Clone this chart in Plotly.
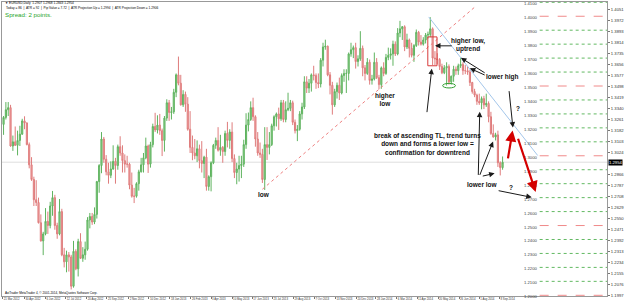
import numpy as np
import plotly.graph_objects as go

# ---------------- data ----------------
start_date = "2012-03-21"
holidays = ["2012-12-25", "2013-01-01", "2013-12-25", "2014-01-01"]
days_per_bar = 3
first_open = 1.3225

closes = [1.3275,1.3330,1.3345,1.3070,1.3100,1.3075,1.3110,1.3155,1.3250,1.3235,
          1.3080,1.2935,1.2830,1.2685,1.2665,1.2520,1.2390,1.2440,1.2530,1.2500,
          1.2640,1.2700,1.2500,1.2440,1.2600,1.2290,1.2240,1.2290,1.2275,1.2065,
          1.2315,1.2190,1.2385,1.2265,1.2290,1.2330,1.2540,1.2565,1.2525,1.2580,
          1.2815,1.2930,1.3120,1.2975,1.2885,1.2860,1.2905,1.2960,1.2930,1.3065,
          1.3020,1.2965,1.2940,1.2940,1.2790,1.2710,1.2710,1.2800,1.2885,1.2935,
          1.2985,1.3070,1.2940,1.3080,1.3210,1.3185,1.3220,1.3180,1.3110,1.3270,
          1.3380,1.3310,1.3315,1.3455,1.3580,1.3520,1.3365,1.3440,1.3370,1.3190,
          1.3060,1.3020,1.3000,1.3050,1.2965,1.2945,1.2990,1.2780,1.2850,1.2950,
          1.3075,1.3110,1.3040,1.3060,1.3030,1.3160,1.3110,1.3170,1.2980,1.2880,
          1.2905,1.2930,1.2940,1.3080,1.3220,1.3260,1.3345,1.3280,1.3120,1.3020,
          1.3010,1.2830,1.3080,1.3060,1.3080,1.3215,1.3280,1.3300,1.3265,1.3380,
          1.3260,1.3330,1.3340,1.3380,1.3240,1.3180,1.3190,1.3300,1.3350,1.3530,
          1.3485,1.3520,1.3580,1.3575,1.3525,1.3515,1.3685,1.3780,1.3785,1.3580,
          1.3505,1.3365,1.3460,1.3505,1.3450,1.3575,1.3590,1.3590,1.3730,1.3760,
          1.3775,1.3675,1.3695,1.3770,1.3630,1.3590,1.3670,1.3540,1.3550,1.3670,
          1.3560,1.3510,1.3630,1.3590,1.3705,1.3720,1.3730,1.3800,1.3730,1.3880,
          1.3910,1.3925,1.3780,1.3830,1.3770,1.3720,1.3790,1.3885,1.3815,1.3800,
          1.3830,1.3865,1.3870,1.3910,1.3700,1.3695,1.3690,1.3640,1.3595,1.3630,
          1.3640,1.3530,1.3570,1.3620,1.3610,1.3645,1.3655,1.3610,1.3610,1.3600,
          1.3525,1.3460,1.3435,1.3390,1.3380,1.3410,1.3365,1.3375,1.3280,1.3160,
          1.3135,1.3150,1.2950,1.2915,1.2954]
highs = [1.3285,1.3385,1.3385,1.3365,1.3145,1.3210,1.3180,1.3215,1.3265,1.3283,
         1.3240,1.3095,1.2990,1.2850,1.2825,1.2700,1.2580,1.2455,1.2625,1.2600,
         1.2670,1.2748,1.2720,1.2520,1.2690,1.2620,1.2340,1.2320,1.2310,1.2290,
         1.2390,1.2330,1.2405,1.2445,1.2345,1.2385,1.2560,1.2590,1.2590,1.2630,
         1.2820,1.2940,1.3170,1.3135,1.3005,1.2950,1.2960,1.3075,1.2985,1.3080,
         1.3140,1.3075,1.3010,1.3000,1.2950,1.2880,1.2770,1.2810,1.2900,1.2985,
         1.3020,1.3130,1.3080,1.3100,1.3230,1.3308,1.3290,1.3300,1.3195,1.3285,
         1.3405,1.3400,1.3350,1.3480,1.3590,1.3711,1.3580,1.3470,1.3460,1.3420,
         1.3320,1.3145,1.3120,1.3110,1.3080,1.3105,1.3000,1.3050,1.2860,1.2960,
         1.3085,1.3130,1.3205,1.3150,1.3070,1.3180,1.3243,1.3190,1.3240,1.3010,
         1.2950,1.3000,1.3000,1.3115,1.3305,1.3310,1.3390,1.3416,1.3290,1.3170,
         1.3095,1.3050,1.3205,1.3205,1.3170,1.3230,1.3290,1.3310,1.3345,1.3400,
         1.3400,1.3390,1.3452,1.3400,1.3395,1.3260,1.3220,1.3320,1.3380,1.3570,
         1.3570,1.3550,1.3590,1.3645,1.3590,1.3590,1.3700,1.3810,1.3832,1.3790,
         1.3600,1.3530,1.3480,1.3525,1.3560,1.3590,1.3620,1.3620,1.3740,1.3810,
         1.3790,1.3810,1.3720,1.3893,1.3790,1.3650,1.3700,1.3690,1.3580,1.3740,
         1.3700,1.3580,1.3640,1.3670,1.3730,1.3775,1.3770,1.3825,1.3820,1.3915,
         1.3967,1.3930,1.3935,1.3875,1.3840,1.3810,1.3800,1.3905,1.3895,1.3865,
         1.3850,1.3880,1.3890,1.3993,1.3920,1.3750,1.3735,1.3700,1.3660,1.3650,
         1.3670,1.3655,1.3575,1.3645,1.3640,1.3660,1.3700,1.3670,1.3650,1.3640,
         1.3615,1.3530,1.3480,1.3445,1.3445,1.3425,1.3430,1.3445,1.3390,1.3315,
         1.3225,1.3165,1.3180,1.2960,1.2995]
lows = [1.3150,1.3260,1.3285,1.3065,1.3035,1.3070,1.3003,1.3070,1.3150,1.3190,
        1.3075,1.2910,1.2820,1.2640,1.2640,1.2515,1.2385,1.2288,1.2430,1.2440,
        1.2480,1.2570,1.2470,1.2405,1.2430,1.2280,1.2200,1.2165,1.2170,1.2042,
        1.2055,1.2180,1.2135,1.2260,1.2240,1.2255,1.2320,1.2480,1.2505,1.2510,
        1.2550,1.2735,1.2875,1.2950,1.2860,1.2800,1.2840,1.2900,1.2800,1.2900,
        1.3000,1.2880,1.2880,1.2915,1.2760,1.2700,1.2661,1.2700,1.2750,1.2880,
        1.2880,1.2975,1.2877,1.2915,1.3060,1.3170,1.3160,1.3150,1.2998,1.3030,
        1.3250,1.3250,1.3260,1.3300,1.3420,1.3505,1.3360,1.3350,1.3315,1.3180,
        1.3020,1.2968,1.2975,1.2955,1.2910,1.2880,1.2840,1.2750,1.2750,1.2745,
        1.2940,1.3050,1.3030,1.3000,1.2950,1.3000,1.3060,1.3050,1.2955,1.2840,
        1.2796,1.2815,1.2840,1.2920,1.3050,1.3175,1.3250,1.3250,1.3065,1.3000,
        1.2985,1.2805,1.2755,1.2970,1.3010,1.3070,1.3180,1.3210,1.3185,1.3250,
        1.3240,1.3240,1.3320,1.3320,1.3220,1.3160,1.3105,1.3180,1.3260,1.3335,
        1.3450,1.3450,1.3460,1.3540,1.3480,1.3485,1.3490,1.3640,1.3760,1.3570,
        1.3440,1.3295,1.3350,1.3410,1.3400,1.3440,1.3530,1.3450,1.3540,1.3710,
        1.3700,1.3625,1.3640,1.3680,1.3570,1.3540,1.3580,1.3510,1.3510,1.3540,
        1.3550,1.3477,1.3480,1.3570,1.3580,1.3685,1.3690,1.3645,1.3715,1.3720,
        1.3850,1.3830,1.3750,1.3765,1.3705,1.3705,1.3673,1.3780,1.3790,1.3790,
        1.3790,1.3805,1.3840,1.3850,1.3650,1.3650,1.3655,1.3615,1.3585,1.3585,
        1.3503,1.3510,1.3510,1.3530,1.3580,1.3580,1.3630,1.3580,1.3585,1.3580,
        1.3500,1.3445,1.3420,1.3365,1.3365,1.3333,1.3335,1.3350,1.3240,1.3150,
        1.3130,1.3110,1.2920,1.2859,1.2900]

bid_price = 1.2954
level_prices = [1.41, 1.40, 1.39, 1.38, 1.37, 1.36, 1.35, 1.34, 1.33, 1.32, 1.31,
                1.30, 1.29, 1.28, 1.27, 1.26, 1.25, 1.24, 1.23, 1.22, 1.21, 1.20]

price_ticks = [1.1997, 1.2076, 1.2155, 1.2234, 1.2313, 1.2392, 1.2471, 1.2550, 1.2629,
               1.2708, 1.2787, 1.2866, 1.3024, 1.3103, 1.3182, 1.3261, 1.3340,
               1.3419, 1.3498, 1.3577, 1.3656, 1.3735, 1.3814, 1.3893, 1.3972, 1.4051]

tick_dates = ["2012-03-21", "2012-04-30", "2012-06-06", "2012-07-12", "2012-08-20",
              "2012-09-25", "2012-11-02", "2012-12-10", "2013-01-18", "2013-02-26",
              "2013-04-03", "2013-05-10", "2013-06-17", "2013-07-23", "2013-08-29",
              "2013-10-07", "2013-11-13", "2013-12-20", "2014-01-28", "2014-03-06",
              "2014-04-11", "2014-05-20", "2014-06-26", "2014-08-01", "2014-09-08"]
tick_labels = ["21 Mar 2012", "30 Apr 2012", "6 Jun 2012", "12 Jul 2012", "20 Aug 2012",
               "25 Sep 2012", "2 Nov 2012", "10 Dec 2012", "18 Jan 2013", "26 Feb 2013",
               "3 Apr 2013", "10 May 2013", "17 Jun 2013", "23 Jul 2013", "29 Aug 2013",
               "7 Oct 2013", "13 Nov 2013", "20 Dec 2013", "28 Jan 2014", "6 Mar 2014",
               "11 Apr 2014", "20 May 2014", "26 Jun 2014", "1 Aug 2014", "8 Sep 2014"]

# drawings (x in trading-day index, y in price)
up_tl_x = [334.0, 607.9]
up_tl_y = [1.2760, 1.4069]
down_tl_x = [548.0, 688.2]
down_tl_y = [1.3995, 1.3002]
box_x = [546.8, 558.6]
box_y = [1.3645, 1.3852]
ellipse_x = [565.9, 582.4]
ellipse_y = [1.3486, 1.3519]

# black arrows: tip x, tip y, tail x, tail y
black_arrows = [
    (556.1, 1.3788, 579.5, 1.3788),
    (551.9, 1.3624, 545.5, 1.3302),
    (589.4, 1.3702, 621.9, 1.3588),
    (600.9, 1.3627, 621.9, 1.3574),
    (656.3, 1.3202, 651.2, 1.3474),
    (613.6, 1.3316, 611.7, 1.2852),
    (630.8, 1.3102, 613.0, 1.2852),
    (632.8, 1.2874, 615.6, 1.2852),
    (680.5, 1.2702, 636.0, 1.2752),
]
red_arrows = [
    (655.9, 1.3181, 649.6, 1.2971),
    (685.6, 1.2740, 662.3, 1.3133),
]
notes = [
    ("higher low,<br>uptrend", 599.0, 1.3795),
    ("lower high", 643.0, 1.3563),
    ("higher<br>low", 491.4, 1.3406),
    ("low", 336.6, 1.2724),
    ("break of ascending TL, trend turns<br>down and forms a lower low =<br>confirmation for downtrend", 546.8, 1.3081),
    ("lower low", 616.8, 1.2791),
    ("?", 662.7, 1.3338),
    ("?", 653.8, 1.2774),
]

header1 = "▼ EURUSD,Daily  1.2907 1.2968 1.2843 1.2954"
header2 = ("Today = 86  |  ATR = 92  |  Pip Value = 7.72  |  ATR Projection Up = 1.2994  |  "
           "ATR Projection Down = 1.2906")
spread_text = "Spread: 2 points."
copyright_text = "AxiTrader MetaTrader 4, © 2001-2014, MetaQuotes Software Corp."

# ---------------- build ----------------
opens = [first_open] + closes[:-1]
o = np.array(opens); c = np.array(closes)
h = np.maximum(np.array(highs), np.maximum(o, c))
l = np.minimum(np.array(lows), np.minimum(o, c))
bar_x = [days_per_bar * i + 1 for i in range(len(closes))]
tick_vals = [int(np.busday_count(start_date, d, holidays=holidays)) for d in tick_dates]

FONT = "Liberation Sans, Arial, sans-serif"
fig = go.Figure()
fig.add_trace(go.Candlestick(
    x=bar_x, open=o, high=h, low=l, close=c,
    increasing=dict(line=dict(color="#5fb35f", width=1), fillcolor="#93d493"),
    decreasing=dict(line=dict(color="#df7c7c", width=1), fillcolor="#f3aaaa"),
    whiskerwidth=0, showlegend=False, hoverinfo="skip"))

shapes = []
annotations = []

# bid line
shapes.append(dict(type="line", xref="paper", yref="y", x0=0, x1=1, y0=bid_price, y1=bid_price,
                   line=dict(color="#dedede", width=1), layer="below"))

# level lines with labels
for lv in level_prices:
    major = abs(round(lv * 100) % 5) == 0
    shapes.append(dict(type="line", xref="paper", yref="y", x0=0.8887, x1=1, y0=lv, y1=lv,
                       line=dict(color="#f08a8a" if major else "#62b962", width=1,
                                 dash="dash" if major else "dot")))
    annotations.append(dict(xref="paper", yref="y", x=0.8871, y=lv, xanchor="right", yanchor="middle",
                            yshift=-1.5, text=f"{lv:.4f}", showarrow=False,
                            font=dict(family=FONT, size=4.2, color="#444")))

# trend lines, box, ellipse
shapes.append(dict(type="line", xref="x", yref="y", x0=up_tl_x[0], x1=up_tl_x[1],
                   y0=up_tl_y[0], y1=up_tl_y[1], line=dict(color="#ee8080", width=1, dash="dot")))
shapes.append(dict(type="line", xref="x", yref="y", x0=down_tl_x[0], x1=down_tl_x[1],
                   y0=down_tl_y[0], y1=down_tl_y[1], line=dict(color="#a3c6ea", width=1)))
shapes.append(dict(type="rect", xref="x", yref="y", x0=box_x[0], x1=box_x[1],
                   y0=box_y[0], y1=box_y[1], line=dict(color="#d83a3a", width=1)))
shapes.append(dict(type="circle", xref="x", yref="y", x0=ellipse_x[0], x1=ellipse_x[1],
                   y0=ellipse_y[0], y1=ellipse_y[1], line=dict(color="#2f9e2f", width=1)))

for tx, ty, sx, sy in black_arrows:
    annotations.append(dict(x=tx, y=ty, ax=sx, ay=sy, xref="x", yref="y", axref="x", ayref="y",
                            text="", showarrow=True, arrowhead=2, arrowsize=1.1, arrowwidth=1,
                            arrowcolor="#1a1a1a", standoff=0, startstandoff=0))
for tx, ty, sx, sy in red_arrows:
    annotations.append(dict(x=tx, y=ty, ax=sx, ay=sy, xref="x", yref="y", axref="x", ayref="y",
                            text="", showarrow=True, arrowhead=2, arrowsize=1, arrowwidth=2.2,
                            arrowcolor="#d40000", standoff=0, startstandoff=0))
for txt, nx, ny in notes:
    annotations.append(dict(x=nx, y=ny, xref="x", yref="y", text=f"<b>{txt}</b>", showarrow=False,
                            xanchor="center", yanchor="middle", align="center",
                            font=dict(family=FONT, size=6.5, color="#111")))

# current price box on axis
annotations.append(dict(xref="paper", yref="y", x=1.0, y=bid_price, xanchor="left", yanchor="middle",
                        xshift=1, text=f"{bid_price:.4f}", showarrow=False, bgcolor="#000",
                        font=dict(family=FONT, size=4.2, color="#fff"), borderpad=0))

# header texts
annotations.append(dict(xref="paper", yref="paper", x=0.0015, y=0.9955, xanchor="left", yanchor="middle",
                        text=header1, showarrow=False, font=dict(family=FONT, size=3.2, color="#000")))
annotations.append(dict(xref="paper", yref="paper", x=0.003, y=0.9797, xanchor="left", yanchor="middle",
                        text=header2, showarrow=False, font=dict(family=FONT, size=3.2, color="#000")))
annotations.append(dict(xref="paper", yref="paper", x=0.002, y=0.9576, xanchor="left", yanchor="middle",
                        text=spread_text, showarrow=False, font=dict(family=FONT, size=6.2, color="#2aa52a")))
annotations.append(dict(xref="paper", yref="paper", x=0.002, y=0.009, xanchor="left", yanchor="middle",
                        text=copyright_text, showarrow=False, font=dict(family=FONT, size=3.1, color="#000")))

x_lo = -1
x_hi = -1 + 611 / 0.785
fig.update_layout(
    width=625, height=302,
    margin=dict(l=1, r=13, t=1, b=6),
    paper_bgcolor="white", plot_bgcolor="white",
    shapes=shapes, annotations=annotations, showlegend=False,
    xaxis=dict(range=[x_lo, x_hi], rangeslider=dict(visible=False), showgrid=False, zeroline=False,
               tickmode="array", tickvals=tick_vals, ticktext=tick_labels, tickangle=0,
               ticks="outside", ticklen=2, tickcolor="#777", ticklabelposition="outside right",
               tickfont=dict(family=FONT, size=2.8, color="#333"),
               showline=True, linecolor="#999", linewidth=1, mirror=True, fixedrange=True),
    yaxis=dict(range=[1.1995, 1.41021], side="right", showgrid=False, zeroline=False,
               tickmode="array", tickvals=price_ticks, ticktext=[f"{v:.4f}" for v in price_ticks],
               ticks="outside", ticklen=2, tickcolor="#777",
               tickfont=dict(family=FONT, size=4.2, color="#333"),
               showline=True, linecolor="#999", linewidth=1, mirror=True, fixedrange=True),
)
fig.write_html("out.html")
